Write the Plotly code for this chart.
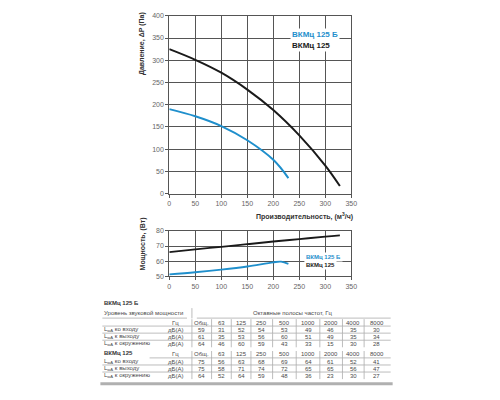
"""Fan curves and sound power table for ВКМц 125 / ВКМц 125 Б"""
import plotly.graph_objects as go

# pressure curves
flow_125 = [0, 50, 100, 150, 200, 250, 300, 328]
pressure_125 = [325, 301, 272, 234, 188, 131, 63, 17]
flow_125b = [0, 50, 100, 150, 200, 229]
pressure_125b = [190, 174, 152, 120, 76, 35]

# power curves
power_125 = [66, 67.8, 69.5, 71.2, 73, 74.6, 76.2, 77]
flow_power_125b = [0, 50, 100, 150, 200, 215, 229]
power_125b = [51.2, 52.6, 54.3, 56.4, 59.2, 59.6, 58.2]

# sound power table
bands = ["Общ.", "63", "125", "250", "500", "1000", "2000", "4000", "8000"]
row_labels = ["ко входу", "к выходу", "к окружению"]
sound_125b = [[59, 31, 52, 54, 53, 49, 46, 35, 30],
              [61, 35, 53, 56, 60, 51, 49, 35, 34],
              [64, 46, 60, 59, 43, 33, 15, 30, 28]]
sound_125 = [[75, 56, 63, 68, 69, 64, 61, 52, 41],
             [75, 58, 71, 74, 72, 65, 65, 56, 47],
             [64, 52, 64, 59, 48, 36, 23, 30, 27]]

BLUE = "#1f8fcc"
BLACK = "#1a1a1a"
TXT = "#4a4a4a"
FONT = "Liberation Sans, Arial, sans-serif"
W, H = 500, 400


def px(x):
    return x / W


def py(y):
    return 1 - y / H


fig = go.Figure()
fig.add_trace(go.Scatter(x=flow_125, y=pressure_125, mode="lines", line=dict(color=BLACK, width=2, shape="spline"),
                         xaxis="x", yaxis="y"))
fig.add_trace(go.Scatter(x=flow_125b, y=pressure_125b, mode="lines", line=dict(color=BLUE, width=2, shape="spline"),
                         xaxis="x", yaxis="y"))
fig.add_trace(go.Scatter(x=flow_125, y=power_125, mode="lines", line=dict(color=BLACK, width=1.8, shape="spline"),
                         xaxis="x2", yaxis="y2"))
fig.add_trace(go.Scatter(x=flow_power_125b, y=power_125b, mode="lines",
                         line=dict(color=BLUE, width=1.8, shape="spline"), xaxis="x2", yaxis="y2"))

axis_style = dict(showgrid=True, gridcolor="#555", gridwidth=1, showline=True, linecolor="#555",
                  linewidth=1, mirror=True, ticks="outside", ticklen=3, tickcolor="#555",
                  tickfont=dict(size=7, color="#666", family=FONT), zeroline=False, fixedrange=True)

fig.update_layout(
    width=W, height=H, margin=dict(l=0, r=0, t=0, b=0),
    paper_bgcolor="white", plot_bgcolor="white", showlegend=False,
    font=dict(family=FONT, color=TXT),
    xaxis=dict(domain=[px(170), px(355)], range=[0, 350], dtick=50, anchor="y", **axis_style),
    yaxis=dict(domain=[py(193), py(12)], range=[0, 400], dtick=50, anchor="x", **axis_style),
    xaxis2=dict(domain=[px(170), px(355)], range=[0, 350], dtick=50, anchor="y2", **axis_style),
    yaxis2=dict(domain=[py(277), py(231)], range=[50, 80], dtick=10, anchor="x2", **axis_style),
)

ann = []


def text(x, y, s, size=6, color=TXT, xanchor="left", bold=False, **kw):
    ann.append(dict(x=px(x), y=py(y), xref="paper", yref="paper", text=f"<b>{s}</b>" if bold else s,
                    showarrow=False, xanchor=xanchor, yanchor="middle",
                    font=dict(size=size, color=color, family=FONT), **kw))


# axis titles and legends
text(143, 40, "Давление, ΔP (Па)", size=7, color="#333", bold=True, xanchor="center", textangle=-90)
text(359, 216, "Производительность, (м<sup>3</sup>/ч)", size=7, color="#333", bold=True, xanchor="right")
text(143, 244, "Мощность, (Вт)", size=7, color="#333", bold=True, xanchor="center", textangle=-90)
text(293, 31, "ВКМц 125 Б", size=8, color=BLUE, bold=True, bgcolor="white", borderpad=1)
text(293, 42, "ВКМц 125", size=8, color=BLACK, bold=True, bgcolor="white", borderpad=1)
text(307, 258, "ВКМц 125 Б", size=6, color=BLUE, bold=True, bgcolor="white", borderpad=1)
text(307, 265.5, "ВКМц 125", size=6, color=BLACK, bold=True, bgcolor="white", borderpad=1)

# table geometry (pixels)
col_x = [203, 223, 243, 264, 287, 311, 334, 357, 381]
seps = [160, 193, 213, 233, 253, 275, 299, 323, 346, 368]
unit_x = 176
left, right = 102, 395
shapes = []


def hline(y, x0=left, x1=right):
    shapes.append(dict(type="line", xref="paper", yref="paper", x0=px(x0), x1=px(x1), y0=py(y), y1=py(y),
                       line=dict(color="#a0a0a0", width=0.7)))


def vlines(y0, y1, xs):
    for x in xs:
        shapes.append(dict(type="line", xref="paper", yref="paper", x0=px(x), x1=px(x), y0=py(y0), y1=py(y1),
                           line=dict(color="#a0a0a0", width=0.7)))


def table(top, title, values, first):
    text(left, top, title, bold=True, color="#333")
    if first:
        text(left, top + 10.3, "Уровень звуковой мощности")
        text(296, top + 10.3, "Октавные полосы частот, Гц", xanchor="center")
        vlines(top + 5.5, top + 16, [seps[1]])
        hline(top + 15.7, left, 188)
        hline(top + 15.7, 198, right)
        hr = top + 20.3
    else:
        hr = top + 1.7
    text(unit_x, hr, "Гц", xanchor="center")
    for x, b in zip(col_x, bands):
        text(x, hr, b, xanchor="center")
    vlines(hr - 3.5, hr + 3.5, seps[1:])
    hline(hr + 3.5, left if first else 150, right)
    for i, (lab, row) in enumerate(zip(row_labels, values)):
        y = hr + 7.2 * (i + 1)
        text(left, y, f"L<sub>wA</sub> {lab}")
        text(unit_x, y, "дБ(А)", xanchor="center")
        for x, v in zip(col_x, row):
            text(x, y, str(v), xanchor="center")
        vlines(y - 3.5, y + 3.5, seps[1:])
        if i < 2:
            hline(y + 3.5)


table(304, "ВКМц 125 Б", sound_125b, True)
table(355, "ВКМц 125", sound_125, False)
shapes.append(dict(type="rect", xref="paper", yref="paper", x0=px(100), x1=px(397), y0=py(388), y1=py(385),
                   fillcolor="#b0b0b0", line=dict(width=0)))

fig.update_layout(annotations=ann, shapes=shapes)
fig.write_html("out.html", config={"displayModeBar": False},
               post_script="document.body.style.margin = '0';")
